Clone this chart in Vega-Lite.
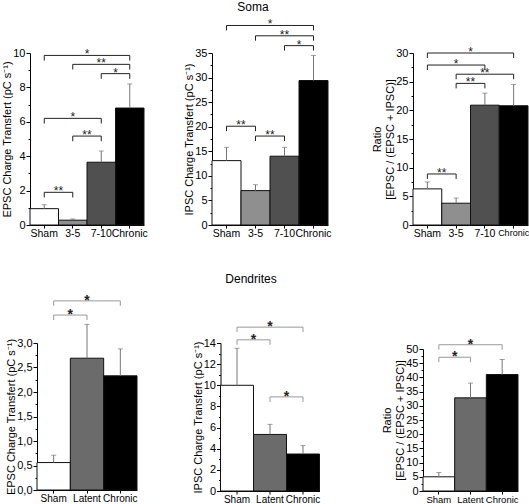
{
  "$schema": "https://vega.github.io/schema/vega-lite/v6.json",
  "padding": {"left": 1, "top": 1, "right": 0, "bottom": 0},
  "config": {
    "font": "Liberation Sans",
    "view": {"stroke": null},
    "axis": {"labelFont": "Liberation Sans", "titleFont": "Liberation Sans", "labelFontSize": 11, "titleFontSize": 11, "titleFontWeight": "normal", "labelColor": "#000", "titleColor": "#000", "domainColor": "#000", "tickColor": "#000", "grid": false, "tickSize": 4, "labelPadding": 1, "titlePadding": 0, "labelOverlap": false, "labelBound": false},
    "axisX": {"ticks": true, "tickSize": 3, "labelAngle": 0, "labelPadding": 0, "labelFontSize": 10.5},
    "title": {"font": "Liberation Sans", "fontSize": 12, "fontWeight": "normal", "color": "#000"}
  },
  "datasets": {
    "b1": [
      {"g": "Sham", "v": 0.95, "e": 1.18},
      {"g": "3-5", "v": 0.28, "e": 0.35},
      {"g": "7-10", "v": 3.65, "e": 4.3},
      {"g": "Chronic", "v": 6.8, "e": 8.2}
    ],
    "k1": [
      {"a": "Sham", "b": "3-5", "span": 1, "y": 1.9, "lo": 1.6, "s": "**"},
      {"a": "Sham", "b": "7-10", "span": 2, "y": 6.2, "lo": 5.9, "s": "*"},
      {"a": "3-5", "b": "7-10", "span": 1, "y": 5.17, "lo": 4.87, "s": "**"},
      {"a": "Sham", "b": "Chronic", "span": 3, "y": 9.86, "lo": 9.56, "s": "*"},
      {"a": "3-5", "b": "Chronic", "span": 2, "y": 9.34, "lo": 9.04, "s": "**"},
      {"a": "7-10", "b": "Chronic", "span": 1, "y": 8.8, "lo": 8.5, "s": "*"}
    ],
    "b2": [
      {"g": "Sham", "v": 13.1, "e": 15.8},
      {"g": "3-5", "v": 7.0, "e": 8.2},
      {"g": "7-10", "v": 14.0, "e": 15.8},
      {"g": "Chronic", "v": 29.4, "e": 34.5}
    ],
    "k2": [
      {"a": "Sham", "b": "3-5", "span": 1, "y": 20.1, "lo": 19.1, "s": "**"},
      {"a": "3-5", "b": "7-10", "span": 1, "y": 18.1, "lo": 17.1, "s": "**"},
      {"a": "Sham", "b": "Chronic", "span": 3, "y": 40.6, "lo": 39.6, "s": "*"},
      {"a": "3-5", "b": "Chronic", "span": 2, "y": 38.5, "lo": 37.5, "s": "**"},
      {"a": "7-10", "b": "Chronic", "span": 1, "y": 36.5, "lo": 35.5, "s": "*"}
    ],
    "b3": [
      {"g": "Sham", "v": 6.3, "e": 7.5},
      {"g": "3-5", "v": 3.8, "e": 4.7},
      {"g": "7-10", "v": 20.9, "e": 23.0},
      {"g": "Chronic", "v": 20.8, "e": 24.5}
    ],
    "k3": [
      {"a": "Sham", "b": "3-5", "span": 1, "y": 8.9, "lo": 8.03, "s": "**"},
      {"a": "Sham", "b": "Chronic", "span": 3, "y": 30.0, "lo": 29.13, "s": "*"},
      {"a": "Sham", "b": "7-10", "span": 2, "y": 27.9, "lo": 27.03, "s": "*"},
      {"a": "3-5", "b": "Chronic", "span": 2, "y": 26.3, "lo": 25.43, "s": "**"},
      {"a": "3-5", "b": "7-10", "span": 1, "y": 24.7, "lo": 23.83, "s": "**"}
    ],
    "b4": [
      {"g": "Sham", "v": 0.56, "e": 0.71},
      {"g": "Latent", "v": 2.69, "e": 3.38},
      {"g": "Chronic", "v": 2.33, "e": 2.88}
    ],
    "k4": [
      {"a": "Sham", "b": "Latent", "span": 1, "y": 3.57, "lo": 3.47, "s": "*"},
      {"a": "Sham", "b": "Chronic", "span": 2, "y": 3.86, "lo": 3.76, "s": "*"}
    ],
    "b5": [
      {"g": "Sham", "v": 10.0, "e": 13.5},
      {"g": "Latent", "v": 5.35, "e": 6.3},
      {"g": "Chronic", "v": 3.5, "e": 4.3}
    ],
    "k5": [
      {"a": "Sham", "b": "Latent", "span": 1, "y": 14.3, "lo": 13.83, "s": "*"},
      {"a": "Sham", "b": "Chronic", "span": 2, "y": 15.5, "lo": 15.03, "s": "*"},
      {"a": "Latent", "b": "Chronic", "span": 1, "y": 8.9, "lo": 8.43, "s": "*"}
    ],
    "b6": [
      {"g": "Sham", "v": 5.0, "e": 6.5},
      {"g": "Latent", "v": 32.8, "e": 38.0},
      {"g": "Chronic", "v": 41.0, "e": 46.3}
    ],
    "k6": [
      {"a": "Sham", "b": "Latent", "span": 1, "y": 47.1, "lo": 45.36, "s": "*"},
      {"a": "Sham", "b": "Chronic", "span": 2, "y": 51.5, "lo": 49.76, "s": "*"}
    ]
  },
  "hconcat": [
    {
      "vconcat": [
        {
          "width": 114, "height": 172,
          "layer": [
            {"data": {"name": "b1"}, "mark": {"type": "bar", "stroke": "#111", "strokeWidth": 1},
             "encoding": {
               "x": {"field": "g", "type": "nominal", "axis": {"title": null, "labelOverlap": false}, "scale": {"domain": ["Sham", "3-5", "7-10", "Chronic"], "paddingInner": 0, "paddingOuter": 0}},
               "y": {"field": "v", "type": "quantitative", "scale": {"domain": [0, 10], "nice": false}, "axis": {"tickCount": 100, "labelOverlap": false, "values": [0, 1, 2, 3, 4, 5, 6, 7, 8, 9, 10], "labelExpr": "datum.value % 2 == 0 ? format(datum.value, 'd') : ''", "tickSize": {"condition": {"test": "datum.value % 2 != 0", "value": 2}, "value": 4}, "title": "EPSC Charge Transfert (pC s⁻¹)"}},
               "color": {"field": "g", "type": "nominal", "scale": {"domain": ["Sham", "3-5", "7-10", "Chronic"], "range": ["#ffffff", "#8f8f8f", "#505050", "#000000"]}, "legend": null}}},
            {"data": {"name": "b1"}, "mark": {"type": "rule", "color": "#777"},
             "encoding": {"x": {"field": "g", "type": "nominal"}, "y": {"field": "v", "type": "quantitative"}, "y2": {"field": "e"}}},
            {"data": {"name": "b1"}, "mark": {"type": "tick", "color": "#777", "size": 5, "thickness": 1, "orient": "horizontal"},
             "encoding": {"x": {"field": "g", "type": "nominal"}, "y": {"field": "e", "type": "quantitative"}}},
            {"data": {"name": "k1"}, "mark": {"type": "rule", "color": "#222"},
             "encoding": {"x": {"field": "a", "type": "nominal"}, "x2": {"field": "b"}, "y": {"field": "y", "type": "quantitative"}}},
            {"data": {"name": "k1"}, "mark": {"type": "rule", "color": "#222"},
             "encoding": {"x": {"field": "a", "type": "nominal"}, "y": {"field": "y", "type": "quantitative"}, "y2": {"field": "lo"}}},
            {"data": {"name": "k1"}, "mark": {"type": "rule", "color": "#222"},
             "encoding": {"x": {"field": "b", "type": "nominal"}, "y": {"field": "y", "type": "quantitative"}, "y2": {"field": "lo"}}},
            {"data": {"name": "k1"}, "transform": [{"filter": "datum.span == 1"}], "mark": {"type": "text", "baseline": "alphabetic", "dy": 3, "fontSize": 12, "color": "#222"},
             "encoding": {"x": {"field": "a", "type": "nominal", "bandPosition": 1}, "y": {"field": "y", "type": "quantitative"}, "text": {"field": "s"}}},
            {"data": {"name": "k1"}, "transform": [{"filter": "datum.span == 2"}], "mark": {"type": "text", "baseline": "alphabetic", "dy": 3, "fontSize": 12, "color": "#222"},
             "encoding": {"x": {"field": "a", "type": "nominal", "bandPosition": 1.5}, "y": {"field": "y", "type": "quantitative"}, "text": {"field": "s"}}},
            {"data": {"name": "k1"}, "transform": [{"filter": "datum.span == 3"}], "mark": {"type": "text", "baseline": "alphabetic", "dy": 3, "fontSize": 12, "color": "#222"},
             "encoding": {"x": {"field": "a", "type": "nominal", "bandPosition": 2}, "y": {"field": "y", "type": "quantitative"}, "text": {"field": "s"}}}
          ]
        },
        {
          "width": 100, "height": 147,
          "layer": [
            {"data": {"name": "b4"}, "mark": {"type": "bar", "stroke": "#111", "strokeWidth": 1},
             "encoding": {
               "x": {"field": "g", "type": "nominal", "axis": {"title": null, "labelOverlap": false, "labelFontSize": 10}, "scale": {"domain": ["Sham", "Latent", "Chronic"], "paddingInner": 0, "paddingOuter": 0}},
               "y": {"field": "v", "type": "quantitative", "scale": {"domain": [0, 3], "nice": false}, "axis": {"tickCount": 100, "labelOverlap": false, "values": [0, 0.25, 0.5, 0.75, 1, 1.25, 1.5, 1.75, 2, 2.25, 2.5, 2.75, 3], "labelExpr": "datum.value % 0.5 == 0 ? replace(format(datum.value, '.1f'), '.', ',') : ''", "tickSize": {"condition": {"test": "datum.value % 0.5 != 0", "value": 2}, "value": 4}, "title": "EPSC Charge Transfert (pC s⁻¹)"}},
               "color": {"field": "g", "type": "nominal", "scale": {"domain": ["Sham", "Latent", "Chronic"], "range": ["#ffffff", "#6b6b6b", "#000000"]}, "legend": null}}},
            {"data": {"name": "b4"}, "mark": {"type": "rule", "color": "#777"},
             "encoding": {"x": {"field": "g", "type": "nominal"}, "y": {"field": "v", "type": "quantitative"}, "y2": {"field": "e"}}},
            {"data": {"name": "b4"}, "mark": {"type": "tick", "color": "#777", "size": 5, "thickness": 1, "orient": "horizontal"},
             "encoding": {"x": {"field": "g", "type": "nominal"}, "y": {"field": "e", "type": "quantitative"}}},
            {"data": {"name": "k4"}, "mark": {"type": "rule", "color": "#999"},
             "encoding": {"x": {"field": "a", "type": "nominal"}, "x2": {"field": "b"}, "y": {"field": "y", "type": "quantitative"}}},
            {"data": {"name": "k4"}, "mark": {"type": "rule", "color": "#999"},
             "encoding": {"x": {"field": "a", "type": "nominal"}, "y": {"field": "y", "type": "quantitative"}, "y2": {"field": "lo"}}},
            {"data": {"name": "k4"}, "mark": {"type": "rule", "color": "#999"},
             "encoding": {"x": {"field": "b", "type": "nominal"}, "y": {"field": "y", "type": "quantitative"}, "y2": {"field": "lo"}}},
            {"data": {"name": "k4"}, "transform": [{"filter": "datum.span == 1"}], "mark": {"type": "text", "baseline": "alphabetic", "dy": 4, "fontSize": 14, "fontWeight": "bold", "color": "#222"},
             "encoding": {"x": {"field": "a", "type": "nominal", "bandPosition": 1}, "y": {"field": "y", "type": "quantitative"}, "text": {"field": "s"}}},
            {"data": {"name": "k4"}, "transform": [{"filter": "datum.span == 2"}], "mark": {"type": "text", "baseline": "alphabetic", "dy": 4, "fontSize": 14, "fontWeight": "bold", "color": "#222"},
             "encoding": {"x": {"field": "a", "type": "nominal", "bandPosition": 1.5}, "y": {"field": "y", "type": "quantitative"}, "text": {"field": "s"}}}
          ]
        }
      ],
      "spacing": 118, "center": true, "bounds": "flush",
      "resolve": {"scale": {"x": "independent", "y": "independent", "color": "independent"}}
    },
    {
      "hconcat": [
        {
          "vconcat": [
            {
              "width": 116, "height": 172,
              "title": {"text": "Soma", "dx": -17, "offset": 4},
              "layer": [
                {"data": {"name": "b2"}, "mark": {"type": "bar", "stroke": "#111", "strokeWidth": 1},
                 "encoding": {
                   "x": {"field": "g", "type": "nominal", "axis": {"title": null, "labelOverlap": false}, "scale": {"domain": ["Sham", "3-5", "7-10", "Chronic"], "paddingInner": 0, "paddingOuter": 0}},
                   "y": {"field": "v", "type": "quantitative", "scale": {"domain": [0, 35], "nice": false}, "axis": {"tickCount": 100, "labelOverlap": false, "values": [0, 2.5, 5, 7.5, 10, 12.5, 15, 17.5, 20, 22.5, 25, 27.5, 30, 32.5, 35], "labelExpr": "datum.value % 5 == 0 ? format(datum.value, 'd') : ''", "tickSize": {"condition": {"test": "datum.value % 5 != 0", "value": 2}, "value": 4}, "title": "IPSC Charge Transfert (pC s⁻¹)"}},
                   "color": {"field": "g", "type": "nominal", "scale": {"domain": ["Sham", "3-5", "7-10", "Chronic"], "range": ["#ffffff", "#8f8f8f", "#505050", "#000000"]}, "legend": null}}},
                {"data": {"name": "b2"}, "mark": {"type": "rule", "color": "#777"},
                 "encoding": {"x": {"field": "g", "type": "nominal"}, "y": {"field": "v", "type": "quantitative"}, "y2": {"field": "e"}}},
                {"data": {"name": "b2"}, "mark": {"type": "tick", "color": "#777", "size": 5, "thickness": 1, "orient": "horizontal"},
                 "encoding": {"x": {"field": "g", "type": "nominal"}, "y": {"field": "e", "type": "quantitative"}}},
                {"data": {"name": "k2"}, "mark": {"type": "rule", "color": "#222"},
                 "encoding": {"x": {"field": "a", "type": "nominal"}, "x2": {"field": "b"}, "y": {"field": "y", "type": "quantitative"}}},
                {"data": {"name": "k2"}, "mark": {"type": "rule", "color": "#222"},
                 "encoding": {"x": {"field": "a", "type": "nominal"}, "y": {"field": "y", "type": "quantitative"}, "y2": {"field": "lo"}}},
                {"data": {"name": "k2"}, "mark": {"type": "rule", "color": "#222"},
                 "encoding": {"x": {"field": "b", "type": "nominal"}, "y": {"field": "y", "type": "quantitative"}, "y2": {"field": "lo"}}},
                {"data": {"name": "k2"}, "transform": [{"filter": "datum.span == 1"}], "mark": {"type": "text", "baseline": "alphabetic", "dy": 3, "fontSize": 12, "color": "#222"},
                 "encoding": {"x": {"field": "a", "type": "nominal", "bandPosition": 1}, "y": {"field": "y", "type": "quantitative"}, "text": {"field": "s"}}},
                {"data": {"name": "k2"}, "transform": [{"filter": "datum.span == 2"}], "mark": {"type": "text", "baseline": "alphabetic", "dy": 3, "fontSize": 12, "color": "#222"},
                 "encoding": {"x": {"field": "a", "type": "nominal", "bandPosition": 1.5}, "y": {"field": "y", "type": "quantitative"}, "text": {"field": "s"}}},
                {"data": {"name": "k2"}, "transform": [{"filter": "datum.span == 3"}], "mark": {"type": "text", "baseline": "alphabetic", "dy": 3, "fontSize": 12, "color": "#222"},
                 "encoding": {"x": {"field": "a", "type": "nominal", "bandPosition": 2}, "y": {"field": "y", "type": "quantitative"}, "text": {"field": "s"}}}
              ]
            },
            {
              "width": 99, "height": 148,
              "title": {"text": "Dendrites", "dx": -19, "offset": 34},
              "layer": [
                {"data": {"name": "b5"}, "mark": {"type": "bar", "stroke": "#111", "strokeWidth": 1},
                 "encoding": {
                   "x": {"field": "g", "type": "nominal", "axis": {"title": null, "labelOverlap": false, "labelFontSize": 10}, "scale": {"domain": ["Sham", "Latent", "Chronic"], "paddingInner": 0, "paddingOuter": 0}},
                   "y": {"field": "v", "type": "quantitative", "scale": {"domain": [0, 14], "nice": false}, "axis": {"tickCount": 100, "labelOverlap": false, "values": [0, 1, 2, 3, 4, 5, 6, 7, 8, 9, 10, 11, 12, 13, 14], "labelExpr": "datum.value % 2 == 0 ? format(datum.value, 'd') : ''", "tickSize": {"condition": {"test": "datum.value % 2 != 0", "value": 2}, "value": 4}, "title": "IPSC Charge Transfert (pC s⁻¹)"}},
                   "color": {"field": "g", "type": "nominal", "scale": {"domain": ["Sham", "Latent", "Chronic"], "range": ["#ffffff", "#6b6b6b", "#000000"]}, "legend": null}}},
                {"data": {"name": "b5"}, "mark": {"type": "rule", "color": "#777"},
                 "encoding": {"x": {"field": "g", "type": "nominal"}, "y": {"field": "v", "type": "quantitative"}, "y2": {"field": "e"}}},
                {"data": {"name": "b5"}, "mark": {"type": "tick", "color": "#777", "size": 5, "thickness": 1, "orient": "horizontal"},
                 "encoding": {"x": {"field": "g", "type": "nominal"}, "y": {"field": "e", "type": "quantitative"}}},
                {"data": {"name": "k5"}, "mark": {"type": "rule", "color": "#999"},
                 "encoding": {"x": {"field": "a", "type": "nominal"}, "x2": {"field": "b"}, "y": {"field": "y", "type": "quantitative"}}},
                {"data": {"name": "k5"}, "mark": {"type": "rule", "color": "#999"},
                 "encoding": {"x": {"field": "a", "type": "nominal"}, "y": {"field": "y", "type": "quantitative"}, "y2": {"field": "lo"}}},
                {"data": {"name": "k5"}, "mark": {"type": "rule", "color": "#999"},
                 "encoding": {"x": {"field": "b", "type": "nominal"}, "y": {"field": "y", "type": "quantitative"}, "y2": {"field": "lo"}}},
                {"data": {"name": "k5"}, "transform": [{"filter": "datum.span == 1"}], "mark": {"type": "text", "baseline": "alphabetic", "dy": 4, "fontSize": 14, "fontWeight": "bold", "color": "#222"},
                 "encoding": {"x": {"field": "a", "type": "nominal", "bandPosition": 1}, "y": {"field": "y", "type": "quantitative"}, "text": {"field": "s"}}},
                {"data": {"name": "k5"}, "transform": [{"filter": "datum.span == 2"}], "mark": {"type": "text", "baseline": "alphabetic", "dy": 4, "fontSize": 14, "fontWeight": "bold", "color": "#222"},
                 "encoding": {"x": {"field": "a", "type": "nominal", "bandPosition": 1.5}, "y": {"field": "y", "type": "quantitative"}, "text": {"field": "s"}}}
              ]
            }
          ],
          "spacing": 118, "center": true, "bounds": "flush",
          "resolve": {"scale": {"x": "independent", "y": "independent", "color": "independent"}}
        },
        {
          "vconcat": [
            {
              "width": 115, "height": 172,
              "layer": [
                {"data": {"name": "b3"}, "mark": {"type": "bar", "stroke": "#111", "strokeWidth": 1},
                 "encoding": {
                   "x": {"field": "g", "type": "nominal", "axis": {"title": null, "labelOverlap": false, "labelFontSize": {"condition": {"test": "datum.value == 'Chronic'", "value": 9}, "value": 10.5}}, "scale": {"domain": ["Sham", "3-5", "7-10", "Chronic"], "paddingInner": 0, "paddingOuter": 0}},
                   "y": {"field": "v", "type": "quantitative", "scale": {"domain": [0, 30], "nice": false}, "axis": {"tickCount": 100, "labelOverlap": false, "values": [0, 2.5, 5, 7.5, 10, 12.5, 15, 17.5, 20, 22.5, 25, 27.5, 30], "labelExpr": "datum.value % 5 == 0 ? format(datum.value, 'd') : ''", "tickSize": {"condition": {"test": "datum.value % 5 != 0", "value": 2}, "value": 4}, "title": ["Ratio", "[EPSC / (EPSC + IPSC)]"]}},
                   "color": {"field": "g", "type": "nominal", "scale": {"domain": ["Sham", "3-5", "7-10", "Chronic"], "range": ["#ffffff", "#8f8f8f", "#505050", "#000000"]}, "legend": null}}},
                {"data": {"name": "b3"}, "mark": {"type": "rule", "color": "#777"},
                 "encoding": {"x": {"field": "g", "type": "nominal"}, "y": {"field": "v", "type": "quantitative"}, "y2": {"field": "e"}}},
                {"data": {"name": "b3"}, "mark": {"type": "tick", "color": "#777", "size": 5, "thickness": 1, "orient": "horizontal"},
                 "encoding": {"x": {"field": "g", "type": "nominal"}, "y": {"field": "e", "type": "quantitative"}}},
                {"data": {"name": "k3"}, "mark": {"type": "rule", "color": "#222"},
                 "encoding": {"x": {"field": "a", "type": "nominal"}, "x2": {"field": "b"}, "y": {"field": "y", "type": "quantitative"}}},
                {"data": {"name": "k3"}, "mark": {"type": "rule", "color": "#222"},
                 "encoding": {"x": {"field": "a", "type": "nominal"}, "y": {"field": "y", "type": "quantitative"}, "y2": {"field": "lo"}}},
                {"data": {"name": "k3"}, "mark": {"type": "rule", "color": "#222"},
                 "encoding": {"x": {"field": "b", "type": "nominal"}, "y": {"field": "y", "type": "quantitative"}, "y2": {"field": "lo"}}},
                {"data": {"name": "k3"}, "transform": [{"filter": "datum.span == 1"}], "mark": {"type": "text", "baseline": "alphabetic", "dy": 3, "fontSize": 12, "color": "#222"},
                 "encoding": {"x": {"field": "a", "type": "nominal", "bandPosition": 1}, "y": {"field": "y", "type": "quantitative"}, "text": {"field": "s"}}},
                {"data": {"name": "k3"}, "transform": [{"filter": "datum.span == 2"}], "mark": {"type": "text", "baseline": "alphabetic", "dy": 3, "fontSize": 12, "color": "#222"},
                 "encoding": {"x": {"field": "a", "type": "nominal", "bandPosition": 1.5}, "y": {"field": "y", "type": "quantitative"}, "text": {"field": "s"}}},
                {"data": {"name": "k3"}, "transform": [{"filter": "datum.span == 3"}], "mark": {"type": "text", "baseline": "alphabetic", "dy": 3, "fontSize": 12, "color": "#222"},
                 "encoding": {"x": {"field": "a", "type": "nominal", "bandPosition": 2}, "y": {"field": "y", "type": "quantitative"}, "text": {"field": "s"}}}
              ]
            },
            {
              "width": 95, "height": 142,
              "layer": [
                {"data": {"name": "b6"}, "mark": {"type": "bar", "stroke": "#111", "strokeWidth": 1},
                 "encoding": {
                   "x": {"field": "g", "type": "nominal", "axis": {"title": null, "labelOverlap": false, "labelFontSize": 9.5}, "scale": {"domain": ["Sham", "Latent", "Chronic"], "paddingInner": 0, "paddingOuter": 0}},
                   "y": {"field": "v", "type": "quantitative", "scale": {"domain": [0, 50], "nice": false}, "axis": {"tickCount": 100, "labelOverlap": false, "values": [0, 2.5, 5, 7.5, 10, 12.5, 15, 17.5, 20, 22.5, 25, 27.5, 30, 32.5, 35, 37.5, 40, 42.5, 45, 47.5, 50], "labelExpr": "datum.value % 5 == 0 ? format(datum.value, 'd') : ''", "tickSize": {"condition": {"test": "datum.value % 5 != 0", "value": 2}, "value": 4}, "title": ["Ratio", "[EPSC / (EPSC + IPSC)]"]}},
                   "color": {"field": "g", "type": "nominal", "scale": {"domain": ["Sham", "Latent", "Chronic"], "range": ["#ffffff", "#6b6b6b", "#000000"]}, "legend": null}}},
                {"data": {"name": "b6"}, "mark": {"type": "rule", "color": "#777"},
                 "encoding": {"x": {"field": "g", "type": "nominal"}, "y": {"field": "v", "type": "quantitative"}, "y2": {"field": "e"}}},
                {"data": {"name": "b6"}, "mark": {"type": "tick", "color": "#777", "size": 5, "thickness": 1, "orient": "horizontal"},
                 "encoding": {"x": {"field": "g", "type": "nominal"}, "y": {"field": "e", "type": "quantitative"}}},
                {"data": {"name": "k6"}, "mark": {"type": "rule", "color": "#999"},
                 "encoding": {"x": {"field": "a", "type": "nominal"}, "x2": {"field": "b"}, "y": {"field": "y", "type": "quantitative"}}},
                {"data": {"name": "k6"}, "mark": {"type": "rule", "color": "#999"},
                 "encoding": {"x": {"field": "a", "type": "nominal"}, "y": {"field": "y", "type": "quantitative"}, "y2": {"field": "lo"}}},
                {"data": {"name": "k6"}, "mark": {"type": "rule", "color": "#999"},
                 "encoding": {"x": {"field": "b", "type": "nominal"}, "y": {"field": "y", "type": "quantitative"}, "y2": {"field": "lo"}}},
                {"data": {"name": "k6"}, "transform": [{"filter": "datum.span == 1"}], "mark": {"type": "text", "baseline": "alphabetic", "dy": 4, "fontSize": 14, "fontWeight": "bold", "color": "#222"},
                 "encoding": {"x": {"field": "a", "type": "nominal", "bandPosition": 1}, "y": {"field": "y", "type": "quantitative"}, "text": {"field": "s"}}},
                {"data": {"name": "k6"}, "transform": [{"filter": "datum.span == 2"}], "mark": {"type": "text", "baseline": "alphabetic", "dy": 4, "fontSize": 14, "fontWeight": "bold", "color": "#222"},
                 "encoding": {"x": {"field": "a", "type": "nominal", "bandPosition": 1.5}, "y": {"field": "y", "type": "quantitative"}, "text": {"field": "s"}}}
              ]
            }
          ],
          "spacing": 124, "center": true, "bounds": "flush",
          "resolve": {"scale": {"x": "independent", "y": "independent", "color": "independent"}}
        }
      ],
      "spacing": 39
    }
  ],
  "spacing": 35
}
